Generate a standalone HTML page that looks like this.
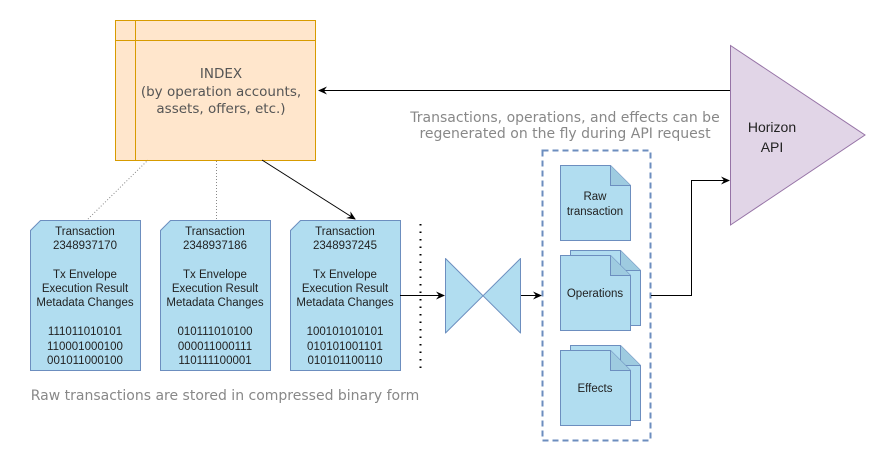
<!DOCTYPE html>
<html><head><style>
body{margin:0;background:#fff}
svg text{font-family:"Liberation Sans",sans-serif}
svg text.d{font-family:"DejaVu Sans",sans-serif}
</style></head><body>
<svg width="886" height="462" viewBox="0 0 886 462" xmlns="http://www.w3.org/2000/svg">
<defs>
<marker id="a" markerWidth="10" markerHeight="10" refX="8" refY="5" orient="auto" markerUnits="userSpaceOnUse"><path d="M0,1 L9,5 L0,9 L3,5 Z" fill="#000"/></marker>
</defs>
<!-- index -->
<rect x="115.5" y="20.5" width="200" height="140" fill="#ffe6cc" stroke="#d79b00"/>
<line x1="115" y1="40.5" x2="315" y2="40.5" stroke="#d79b00"/>
<line x1="135.5" y1="20" x2="135.5" y2="160" stroke="#d79b00"/>
<g font-size="13.5" fill="#555" text-anchor="middle">
<text class="d" x="221" y="78">INDEX</text>
<text class="d" x="221" y="96">(by operation accounts,</text>
<text class="d" x="221" y="113">assets, offers, etc.)</text>
</g>
<!-- horizon -->
<path d="M730.5,45.5 L865,135 L730.5,225 Z" fill="#e1d5e7" stroke="#9673a6"/>
<text x="772" y="132" font-size="14" fill="#222" text-anchor="middle">Horizon</text>
<text x="772" y="152" font-size="14" fill="#222" text-anchor="middle">API</text>
<line x1="730" y1="90.5" x2="319" y2="90.5" stroke="#000" marker-end="url(#a)"/>
<!-- caption -->
<text class="d" x="565" y="122" font-size="14" fill="#888" text-anchor="middle">Transactions, operations, and effects can be</text>
<text class="d" x="565" y="138" font-size="14" fill="#888" text-anchor="middle">regenerated on the fly during API request</text>
<!-- connectors from index -->
<line x1="88" y1="219" x2="148" y2="160" stroke="#888" stroke-dasharray="1 2"/>
<line x1="216.5" y1="219" x2="216.5" y2="160" stroke="#888" stroke-dasharray="1 2"/>
<line x1="262" y1="160" x2="355" y2="219" stroke="#000" marker-end="url(#a)"/>
<!-- tx docs -->
<g fill="#b1ddf0" stroke="#6c8ebf">
<path d="M40.5,220.5 H140.5 V370.5 H30.5 V230.5 Z"/>
<path d="M170.5,220.5 H270.5 V370.5 H160.5 V230.5 Z"/>
<path d="M300.5,220.5 H400.5 V370.5 H290.5 V230.5 Z"/>
</g>
<g font-size="11.5" fill="#222" text-anchor="middle">
<g transform="translate(85,0)">
<text y="235">Transaction</text><text y="249">2348937170</text>
<text y="278">Tx Envelope</text><text y="292">Execution Result</text><text y="306">Metadata Changes</text>
<text y="335">111011010101</text><text y="350">110001000100</text><text y="364">001011000100</text></g>
<g transform="translate(215,0)">
<text y="235">Transaction</text><text y="249">2348937186</text>
<text y="278">Tx Envelope</text><text y="292">Execution Result</text><text y="306">Metadata Changes</text>
<text y="335">010111010100</text><text y="350">000011000111</text><text y="364">110111100001</text></g>
<g transform="translate(345,0)">
<text y="235">Transaction</text><text y="249">2348937245</text>
<text y="278">Tx Envelope</text><text y="292">Execution Result</text><text y="306">Metadata Changes</text>
<text y="335">100101010101</text><text y="350">010101001101</text><text y="364">010101100110</text></g>
</g>
<text class="d" x="225" y="400" font-size="14" fill="#888" text-anchor="middle">Raw transactions are stored in compressed binary form</text>
<line x1="420.5" y1="224" x2="420.5" y2="372" stroke="#000" stroke-width="2" stroke-dasharray="1.5 6"/>
<!-- bowtie -->
<line x1="400" y1="295.5" x2="444" y2="295.5" stroke="#000" marker-end="url(#a)"/>
<path d="M445.5,258.5 L520.5,333 V258.5 L445.5,333 Z" fill="#b1ddf0" stroke="#6c8ebf" stroke-linejoin="round"/>
<line x1="521" y1="295.5" x2="541" y2="295.5" stroke="#000" marker-end="url(#a)"/>
<!-- dashed group -->
<rect x="542.5" y="150.5" width="108" height="290" fill="none" stroke="#6c8ebf" stroke-width="2" stroke-dasharray="6 4"/>
<g fill="#b1ddf0" stroke="#6c8ebf">
<path d="M560.5,165.5 H610.5 L630.5,185.5 V240.5 H560.5 Z"/>
<path d="M610.5,165.5 V185.5 H630.5" fill="#9ecbe0"/>
<path d="M570.5,250.5 H620.5 L640.5,270.5 V325.5 H570.5 Z"/>
<path d="M620.5,250.5 V270.5 H640.5" fill="#9ecbe0"/>
<path d="M560.5,255.5 H610.5 L630.5,275.5 V330.5 H560.5 Z"/>
<path d="M610.5,255.5 V275.5 H630.5" fill="#9ecbe0"/>
<path d="M570.5,345.5 H620.5 L640.5,365.5 V420.5 H570.5 Z"/>
<path d="M620.5,345.5 V365.5 H640.5" fill="#9ecbe0"/>
<path d="M560.5,350.5 H610.5 L630.5,370.5 V425.5 H560.5 Z"/>
<path d="M610.5,350.5 V370.5 H630.5" fill="#9ecbe0"/>
</g>
<g font-size="11.5" fill="#222" text-anchor="middle">
<text x="595" y="200">Raw</text><text x="595" y="215">transaction</text>
<text x="595" y="297">Operations</text>
<text x="595" y="392">Effects</text>
</g>
<path d="M651,295.5 H691.5 V180.5 H729" fill="none" stroke="#000" marker-end="url(#a)"/>
</svg>
</body></html>
